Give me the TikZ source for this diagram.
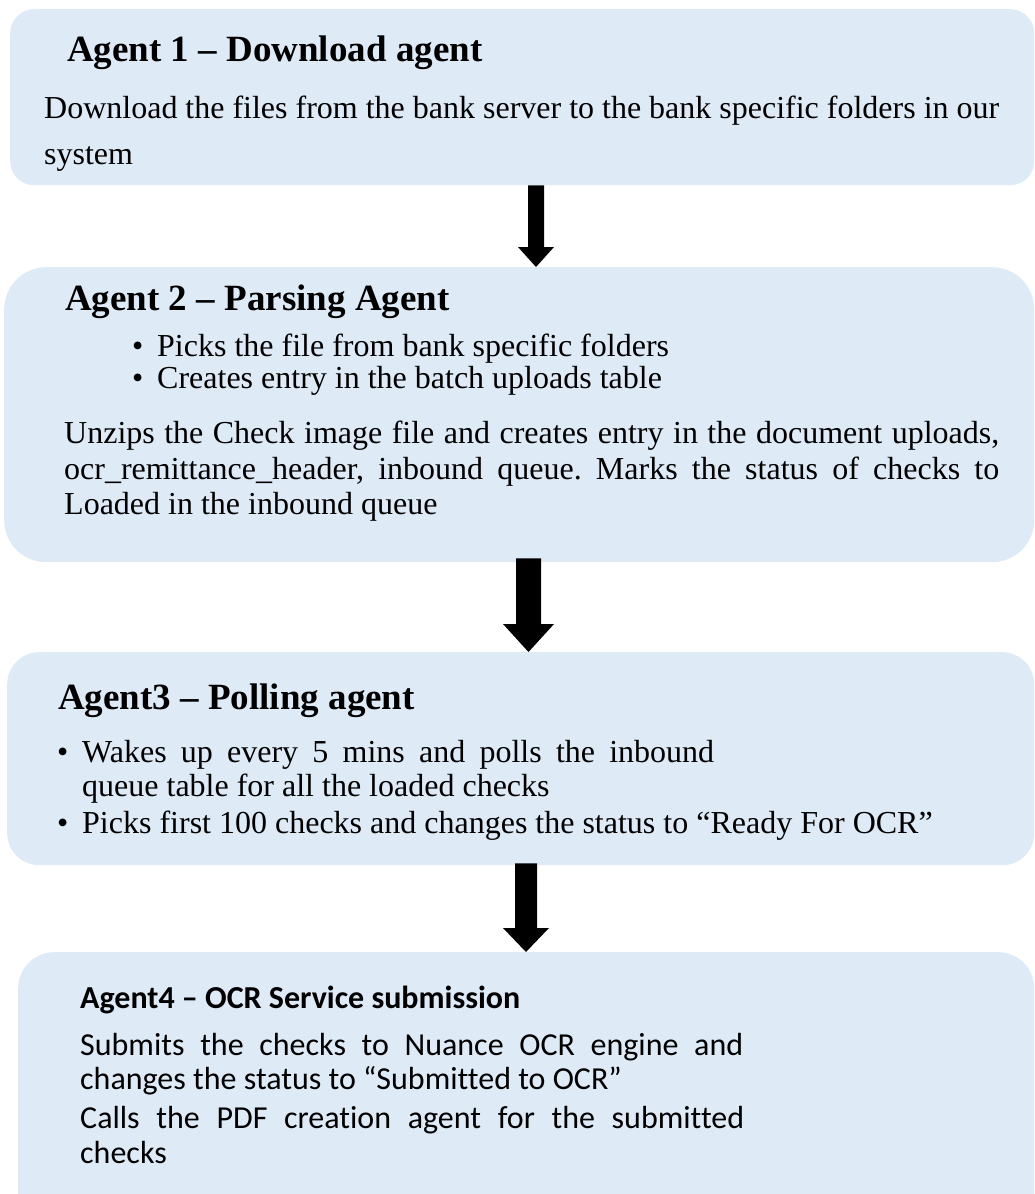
\documentclass[tikz,border=0pt]{standalone}
\usepackage{fontspec}
\setmainfont[Ligatures=NoCommon]{Liberation Serif}
\newfontfamily\calibfont[Ligatures=NoCommon]{Carlito}
\usetikzlibrary{calc}

\definecolor{panelblue}{HTML}{DEEAF6}

\tikzset{
  panel/.style={fill=panelblue, draw=none, inner sep=0pt, anchor=north west},
  line/.style={anchor=base west, inner sep=0pt, font=\fontsize{32}{38}\selectfont\frenchspacing},
  headline/.style={anchor=base west, inner sep=0pt, font=\fontsize{37}{44}\selectfont\bfseries},
  sansline/.style={anchor=base west, inner sep=0pt, font=\calibfont\fontsize{32}{38}\selectfont\frenchspacing},
  sanshead/.style={anchor=base west, inner sep=0pt, font=\calibfont\fontsize{32}{38}\selectfont\bfseries},
}

% filled block arrow: #1 start, #2 tip, #3 half shaft width, #4 half head width, #5 head length
\newcommand\blockarrow[5]{%
  \fill[black] ($(#1)+(-#3,0)$) -- ($(#2)+(-#3,-#5)$) -- ($(#2)+(-#4,-#5)$) -- (#2)
    -- ($(#2)+(#4,-#5)$) -- ($(#2)+(#3,-#5)$) -- ($(#1)+(#3,0)$) -- cycle;}

\begin{document}
\begin{tikzpicture}[x=1pt, y=-1pt]
\useasboundingbox (0,0) rectangle (1034,1194);
\clip (0,0) rectangle (1034,1194);

% panels
\node[panel, rounded corners=24pt, minimum width=1024pt, minimum height=176pt] (box1) at (10,9) {};
\node[panel, rounded corners=42pt, minimum width=1030pt, minimum height=295pt] (box2) at (4,267) {};
\node[panel, rounded corners=32pt, minimum width=1027pt, minimum height=213pt] (box3) at (7,652) {};
\node[panel, rounded corners=36pt, minimum width=1016pt, minimum height=290pt] (box4) at (18,952) {};

% Agent 1
\node[headline] (h1) at (67,61) {Agent 1 – Download agent};
\node[line] (p1a) at (44,118) {\makebox[955pt][s]{Download the files from the bank server to the bank specific folders in our}};
\node[line] (p1b) at (44,164) {system};

% Agent 2
\node[headline] (h2) at (65,310) {Agent 2 – Parsing Agent};
\node[line] (b2a) at (132,356) {•};
\node[line] (t2a) at (157,356) {Picks the file from bank specific folders};
\node[line] (b2b) at (132,388) {•};
\node[line] (t2b) at (157,388) {Creates entry in the batch uploads table};
\node[line] (p2a) at (64,443) {\makebox[935pt][s]{Unzips the Check image file and creates entry in the document uploads,}};
\node[line] (p2b) at (64,479) {\makebox[935pt][s]{ocr\_remittance\_header, inbound queue. Marks the status of checks to}};
\node[line] (p2c) at (64,514) {Loaded in the inbound queue};

% Agent 3
\node[headline] (h3) at (58,709) {Agent3 – Polling agent};
\node[line] (b3a) at (57,762) {•};
\node[line] (t3a) at (82,762) {\makebox[632pt][s]{Wakes up every 5 mins and polls the inbound}};
\node[line] (t3b) at (82,796) {queue table for all the loaded checks};
\node[line] (b3b) at (57,833) {•};
\node[line] (t3c) at (82,833) {Picks first 100 checks and changes the status to “Ready For OCR”};

% Agent 4
\node[sanshead] (h4) at (80,1008) {Agent4 – OCR Service submission};
\node[sansline] (p4a) at (80,1055) {\makebox[663pt][s]{Submits the checks to Nuance OCR engine and}};
\node[sansline] (p4b) at (80,1089) {changes the status to “Submitted to OCR”};
\node[sansline] (p4c) at (80,1128) {\makebox[664pt][s]{Calls the PDF creation agent for the submitted}};
\node[sansline] (p4d) at (80,1163) {checks};

% arrow columns
\coordinate (c1) at (536,0);
\coordinate (c2) at (528.5,0);
\coordinate (c3) at (526,0);

% connectors between the panels
\blockarrow{box1.south -| c1}{box2.north -| c1}{8}{18}{20}
\coordinate (s2) at ($(box2.south -| c2)+(0,-4)$);
\blockarrow{s2}{box3.north -| c2}{12.5}{25.5}{28}
\coordinate (s3) at ($(box3.south -| c3)+(0,-2)$);
\blockarrow{s3}{box4.north -| c3}{11}{23}{24}
\end{tikzpicture}
\end{document}
